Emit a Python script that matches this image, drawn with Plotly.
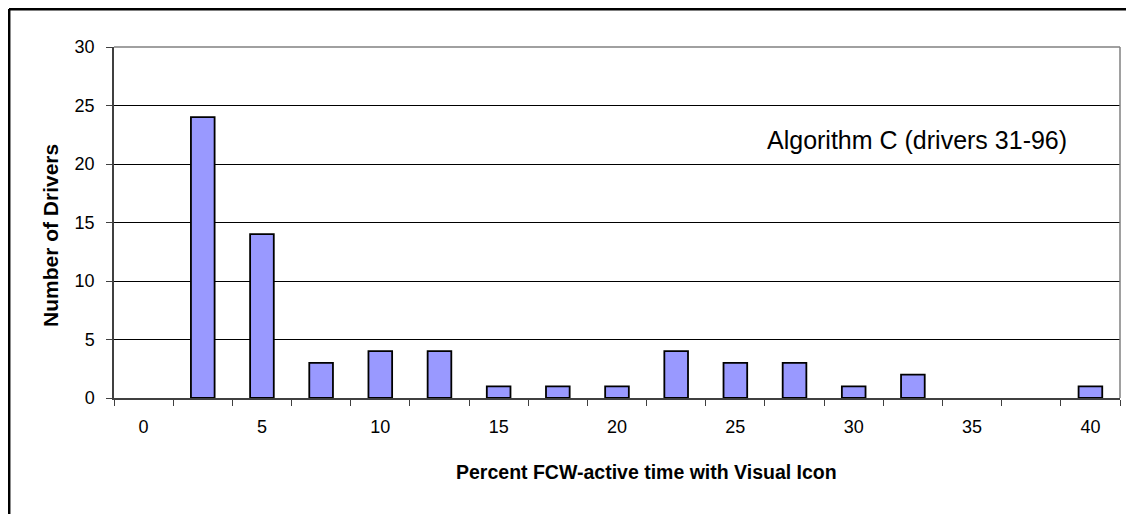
import plotly.graph_objects as go

# Data
bins = [0, 2.5, 5, 7.5, 10, 12.5, 15, 17.5, 20, 22.5, 25, 27.5, 30, 32.5, 35, 37.5, 40]
drivers = [0, 24, 14, 3, 4, 4, 1, 1, 1, 4, 3, 3, 1, 2, 0, 0, 1]
x_tick_labels = [0, 5, 10, 15, 20, 25, 30, 35, 40]
y_ticks = [0, 5, 10, 15, 20, 25, 30]

# page has an 8px body margin; work in figure pixel coords = screen - 8
OFF = 8
W, H = 1134 - OFF, 514 - OFF
L = 114 - OFF
T = 47 - OFF
R = W - (1120 - OFF)
B = H - (398 - OFF)
pw, ph = W - L - R, H - T - B

def px(x):
    return (x - OFF - L) / pw

def py(y):
    return 1 - (y - OFF - T) / ph

FONT = "Liberation Sans, Arial, sans-serif"

fig = go.Figure()
fig.add_trace(go.Bar(
    x=bins, y=drivers, width=1.0,
    marker=dict(color="#9999FF",
                line=dict(color="black", width=[1.8 if v else 0 for v in drivers])),
    showlegend=False,
))

fig.update_layout(
    width=W, height=H,
    margin=dict(l=L, r=R, t=T, b=B),
    paper_bgcolor="white", plot_bgcolor="white",
    font=dict(family=FONT, size=18, color="black"),
    xaxis=dict(
        range=[-1.25, 41.25],
        tickmode="array", tickvals=x_tick_labels, ticktext=[str(v) for v in x_tick_labels],
        ticks="", showgrid=False, zeroline=False,
        showline=True, linecolor="#404040", linewidth=1.5,
        ticklabelstandoff=12,
        minor=dict(tickmode="linear", tick0=-1.25, dtick=2.5, ticks="outside",
                   ticklen=6, tickcolor="#404040", tickwidth=1, showgrid=False),
        tickfont=dict(size=18),
    ),
    yaxis=dict(
        range=[0, 30], tickvals=y_ticks,
        ticks="outside", ticklen=6, tickcolor="#404040",
        showgrid=True, gridcolor="black", gridwidth=1,
        zeroline=False, showline=True, linecolor="#404040", linewidth=1.5,
        ticklabelstandoff=8,
        tickfont=dict(size=18),
    ),
    shapes=[
        dict(type="line", xref="paper", yref="paper", x0=1, x1=1, y0=0, y1=1,
             line=dict(color="#808080", width=1.5), layer="above"),
        dict(type="line", xref="paper", yref="paper", x0=0, x1=1, y0=1, y1=1,
             line=dict(color="#808080", width=1.5), layer="above"),
        dict(type="line", xref="paper", yref="paper", x0=px(9), x1=px(1128), y0=py(9.2), y1=py(9.2),
             line=dict(color="black", width=2.5)),
        dict(type="line", xref="paper", yref="paper", x0=px(9.2), x1=px(9.2), y0=py(9), y1=py(530),
             line=dict(color="black", width=2.5)),
    ],
    annotations=[
        dict(text="Algorithm C (drivers 31-96)", xref="paper", yref="paper",
             x=px(917), y=py(140), showarrow=False, font=dict(size=25),
             xanchor="center", yanchor="middle"),
        dict(text="<b>Percent FCW-active time with Visual Icon</b>", xref="paper", yref="paper",
             x=px(646), y=py(472), showarrow=False, font=dict(size=19.5),
             xanchor="center", yanchor="middle"),
        dict(text="<b>Number of Drivers</b>", xref="paper", yref="paper",
             x=px(50), y=py(236), showarrow=False, font=dict(size=21), textangle=-90,
             xanchor="center", yanchor="middle"),
    ],
)

fig.write_html("out.html")
